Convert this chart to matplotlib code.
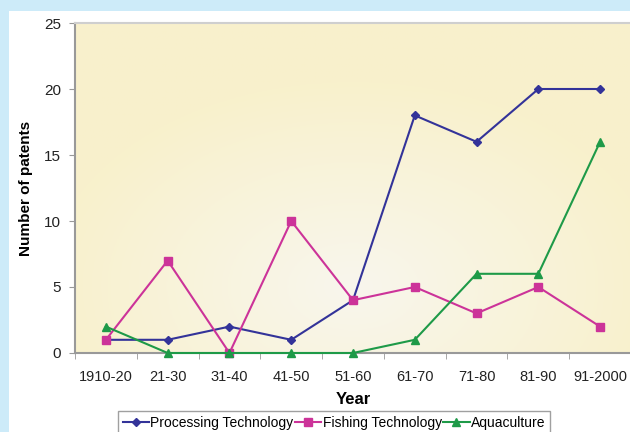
import numpy as np
import matplotlib.pyplot as plt
from matplotlib.patches import Rectangle

# Data
YEARS = ["1910-20", "21-30", "31-40", "41-50", "51-60", "61-70", "71-80", "81-90", "91-2000"]
PROCESSING = [1, 1, 2, 1, 4, 18, 16, 20, 20]
FISHING = [1, 7, 0, 10, 4, 5, 3, 5, 2]
AQUACULTURE = [2, 0, 0, 0, 0, 1, 6, 6, 16]

SERIES = [
    ("Processing Technology", PROCESSING, "#333399", "D", 4.5),
    ("Fishing Technology", FISHING, "#CC3399", "s", 5.5),
    ("Aquaculture", AQUACULTURE, "#1E9A48", "^", 5.5),
]

BLUE_BG = "#CDEBF9"


def main():
    plt.rcParams["font.family"] = ["Liberation Sans", "DejaVu Sans"]

    fig = plt.figure(figsize=(6.3, 4.32), dpi=100, facecolor="white")
    # light blue strips at top and left
    fig.patches.append(Rectangle((0, 1 - 11 / 432), 1, 11 / 432, transform=fig.transFigure,
                                 facecolor=BLUE_BG, edgecolor="none", zorder=-1))
    fig.patches.append(Rectangle((0, 0), 9 / 630, 1, transform=fig.transFigure,
                                 facecolor=BLUE_BG, edgecolor="none", zorder=-1))

    ax = fig.add_axes([75 / 630, 1 - 353 / 432, 556 / 630, 330 / 432])
    ax.set_facecolor("none")

    # pale yellow background, a bit lighter towards the lower middle
    gx, gy = np.meshgrid(np.linspace(-1, 1, 200), np.linspace(-1, 1, 200))
    r = np.clip(np.sqrt((gx * 0.9) ** 2 + ((gy + 0.6) * 0.8) ** 2), 0, 1)
    c0 = np.array([0.975, 0.965, 0.93])
    c1 = np.array([0.975, 0.945, 0.80])
    img = c0 + (c1 - c0) * r[..., None]
    ax.imshow(img, extent=[0, 1, 0, 1], transform=ax.transAxes, aspect="auto",
              origin="lower", zorder=0)

    x = np.arange(len(YEARS))
    for label, vals, color, marker, ms in SERIES:
        ax.plot(x, vals, color=color, marker=marker, markersize=ms, linewidth=1.5,
                markerfacecolor=color, markeredgecolor=color, label=label,
                clip_on=False, zorder=3)

    ax.set_xlim(-0.5, len(YEARS) - 0.5)
    ax.set_ylim(0, 25)
    ax.set_yticks([0, 5, 10, 15, 20, 25])
    ax.set_xticks(x)
    ax.set_xticklabels(YEARS)
    ax.set_xticks(np.arange(len(YEARS) + 1) - 0.5, minor=True)
    ax.tick_params(axis="x", which="major", length=0, pad=12, labelsize=10.5, labelcolor="#222222")
    ax.tick_params(axis="x", which="minor", length=4, color="#999999", direction="out")
    ax.tick_params(axis="y", length=4, color="#999999", labelsize=11, pad=6, labelcolor="#222222")

    for side in ("left", "bottom"):
        ax.spines[side].set_color("#999999")
        ax.spines[side].set_linewidth(1.5)
    ax.spines["top"].set_color("#cfcfcf")
    ax.spines["top"].set_linewidth(1.5)
    ax.spines["right"].set_visible(False)

    ax.set_xlabel("Year", fontsize=12, fontweight="bold", labelpad=6)
    ax.set_ylabel("Number of patents", fontsize=11, fontweight="bold", labelpad=8)

    leg = fig.legend(loc="lower center", bbox_to_anchor=(334 / 630, -0.02), ncol=3,
                     fontsize=10, frameon=True, fancybox=False, handlelength=1.9,
                     handletextpad=0.1, columnspacing=0.1, borderpad=0.3)
    leg.get_frame().set_edgecolor("#888888")
    leg.get_frame().set_linewidth(1.0)

    fig.savefig("out.png", dpi=100, facecolor=fig.get_facecolor())


if __name__ == "__main__":
    main()
